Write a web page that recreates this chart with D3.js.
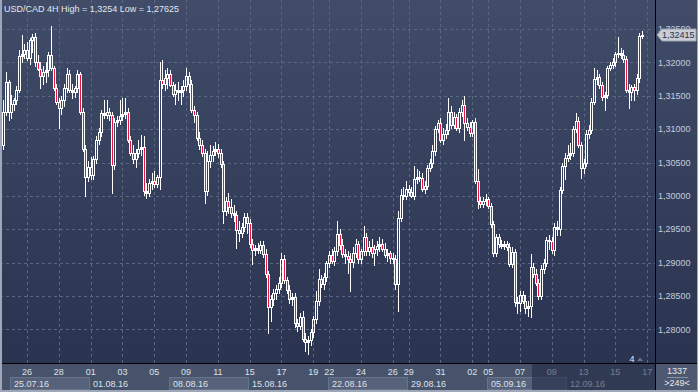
<!DOCTYPE html>
<html><head><meta charset="utf-8">
<script src="https://cdn.jsdelivr.net/npm/d3@7"></script>
<style>
html,body{margin:0;padding:0;background:#2e3752;}
svg{display:block;}
text{font-family:"Liberation Sans",Arial,sans-serif;}
</style></head><body>
<svg id="c" width="698" height="392"></svg>
<script>
const title = "USD/CAD 4H High = 1,3254 Low = 1,27625";
// 4H bars: [open, high, low, close]
const bars = [
[1.30755,1.31430,1.30710,1.31250],[1.31250,1.31850,1.31205,1.31700],[1.31700,1.31730,1.31130,1.31250],[1.31250,1.31505,1.31160,1.31370],
[1.31370,1.31460,1.31280,1.31430],[1.31430,1.31640,1.31370,1.31580],[1.31580,1.32180,1.31550,1.32090],[1.32090,1.32405,1.32000,1.32120],
[1.32120,1.32270,1.32060,1.32180],[1.32180,1.32300,1.32030,1.32060],[1.32060,1.32360,1.31970,1.32330],[1.32330,1.32420,1.32150,1.32375],
[1.32375,1.32435,1.31940,1.32000],[1.32000,1.32105,1.31880,1.31895],[1.31895,1.32000,1.31610,1.31790],[1.31790,1.31940,1.31670,1.31850],
[1.31850,1.32000,1.31700,1.31880],[1.31880,1.32150,1.31790,1.32105],[1.32105,1.32540,1.31880,1.31910],[1.31910,1.31940,1.31580,1.31610],
[1.31610,1.31670,1.31370,1.31400],[1.31400,1.31460,1.31010,1.31310],[1.31310,1.31490,1.31220,1.31430],[1.31430,1.31670,1.31340,1.31610],
[1.31610,1.31910,1.31550,1.31820],[1.31820,1.31880,1.31550,1.31580],[1.31580,1.31670,1.31460,1.31550],[1.31550,1.31640,1.31475,1.31610],
[1.31610,1.31880,1.31550,1.31820],[1.31820,1.31850,1.31220,1.31250],[1.31250,1.31310,1.30680,1.30710],[1.30710,1.30755,1.30005,1.30290],
[1.30290,1.30530,1.30230,1.30440],[1.30440,1.30590,1.30260,1.30320],[1.30320,1.30605,1.30260,1.30560],[1.30560,1.30890,1.30500,1.30830],
[1.30830,1.31010,1.30770,1.30950],[1.30950,1.31280,1.30890,1.31235],[1.31235,1.31430,1.31160,1.31205],[1.31205,1.31430,1.31160,1.31250],
[1.31250,1.31310,1.31130,1.31205],[1.31205,1.31250,1.30050,1.30470],[1.30470,1.31160,1.30410,1.31100],[1.31100,1.31190,1.31040,1.31130],
[1.31130,1.31430,1.31070,1.31190],[1.31190,1.31460,1.31130,1.31220],[1.31220,1.31460,1.31160,1.31250],[1.31250,1.31310,1.30800,1.30830],
[1.30830,1.30890,1.30620,1.30650],[1.30650,1.30755,1.30500,1.30560],[1.30560,1.30710,1.30440,1.30650],[1.30650,1.30830,1.30590,1.30710],
[1.30710,1.30905,1.30620,1.30725],[1.30725,1.30890,1.30020,1.30080],[1.30080,1.30200,1.29975,1.30050],[1.30050,1.30260,1.30005,1.30200],
[1.30200,1.30350,1.30110,1.30230],[1.30230,1.30380,1.30140,1.30185],[1.30185,1.30320,1.30140,1.30290],[1.30290,1.32000,1.30110,1.31730],
[1.31730,1.32030,1.31610,1.31670],[1.31670,1.31880,1.31580,1.31760],[1.31760,1.31910,1.31610,1.31820],[1.31820,1.31880,1.31640,1.31655],
[1.31655,1.31700,1.31490,1.31520],[1.31520,1.31670,1.31370,1.31580],[1.31580,1.31700,1.31430,1.31550],[1.31550,1.31640,1.31370,1.31580],
[1.31580,1.31730,1.31490,1.31640],[1.31640,1.31910,1.31580,1.31790],[1.31790,1.31850,1.31550,1.31670],[1.31670,1.31730,1.31250,1.31280],
[1.31280,1.31340,1.31100,1.31205],[1.31205,1.31250,1.30830,1.30860],[1.30860,1.30950,1.30710,1.30755],[1.30755,1.30830,1.30605,1.30650],
[1.30650,1.30710,1.29900,1.30080],[1.30080,1.30680,1.30020,1.30530],[1.30530,1.30755,1.30440,1.30620],[1.30620,1.30740,1.30530,1.30680],
[1.30680,1.30800,1.30620,1.30710],[1.30710,1.30770,1.30590,1.30650],[1.30650,1.30710,1.30440,1.30485],[1.30485,1.30530,1.29600,1.29780],
[1.29780,1.29990,1.29720,1.29930],[1.29930,1.30050,1.29750,1.29840],[1.29840,1.29960,1.29690,1.29750],[1.29750,1.29870,1.29630,1.29720],
[1.29720,1.29780,1.29225,1.29495],[1.29495,1.29630,1.29330,1.29450],[1.29450,1.29600,1.29390,1.29540],[1.29540,1.29750,1.29480,1.29690],
[1.29690,1.29750,1.29450,1.29600],[1.29600,1.29660,1.29240,1.29285],[1.29285,1.29360,1.28985,1.29195],[1.29195,1.29270,1.29120,1.29225],
[1.29225,1.29300,1.29150,1.29195],[1.29195,1.29330,1.29150,1.29270],[1.29270,1.29330,1.29090,1.29135],[1.29135,1.29210,1.28790,1.28835],
[1.28835,1.28880,1.27950,1.28340],[1.28340,1.28520,1.28130,1.28460],[1.28460,1.28610,1.28370,1.28550],[1.28550,1.28670,1.28460,1.28610],
[1.28610,1.28790,1.28550,1.28700],[1.28700,1.29150,1.28640,1.29060],[1.29060,1.29120,1.28700,1.28745],[1.28745,1.28790,1.28550,1.28595],
[1.28595,1.28670,1.28400,1.28460],[1.28460,1.28550,1.28370,1.28490],[1.28490,1.28550,1.28040,1.28100],[1.28100,1.28160,1.27980,1.28055],
[1.28055,1.28250,1.28010,1.28190],[1.28190,1.28280,1.27830,1.27860],[1.27860,1.27950,1.27680,1.27815],[1.27815,1.27905,1.27625,1.27845],
[1.27845,1.28010,1.27770,1.27965],[1.27965,1.28205,1.27890,1.28160],[1.28160,1.28580,1.28100,1.28430],[1.28430,1.28910,1.28370,1.28760],
[1.28760,1.28820,1.28640,1.28685],[1.28685,1.28850,1.28610,1.28790],[1.28790,1.29030,1.28730,1.29000],[1.29000,1.29180,1.28940,1.29120],
[1.29120,1.29210,1.29000,1.29030],[1.29030,1.29240,1.28970,1.29180],[1.29180,1.29630,1.29120,1.29435],[1.29435,1.29510,1.29210,1.29270],
[1.29270,1.29360,1.29090,1.29135],[1.29135,1.29210,1.29000,1.29105],[1.29105,1.29180,1.28850,1.29060],[1.29060,1.29150,1.28580,1.29015],
[1.29015,1.29240,1.28940,1.29150],[1.29150,1.29360,1.29090,1.29285],[1.29285,1.29330,1.29000,1.29060],[1.29060,1.29210,1.29000,1.29180],
[1.29180,1.29555,1.29120,1.29390],[1.29390,1.29450,1.29120,1.29180],[1.29180,1.29330,1.29120,1.29240],[1.29240,1.29360,1.29090,1.29150],
[1.29150,1.29270,1.28970,1.29210],[1.29210,1.29330,1.29120,1.29255],[1.29255,1.29390,1.29180,1.29285],[1.29285,1.29360,1.29180,1.29210],
[1.29210,1.29300,1.29090,1.29120],[1.29120,1.29210,1.29030,1.29150],[1.29150,1.29180,1.29000,1.29075],[1.29075,1.29150,1.29000,1.29060],
[1.29060,1.29120,1.28610,1.28685],[1.28685,1.29780,1.28280,1.29675],[1.29675,1.30110,1.29630,1.30020],[1.30020,1.30140,1.29960,1.30005],
[1.30005,1.30230,1.29960,1.30110],[1.30110,1.30170,1.30020,1.30065],[1.30065,1.30140,1.29990,1.30005],[1.30005,1.30455,1.29960,1.30260],
[1.30260,1.30410,1.30200,1.30290],[1.30290,1.30380,1.30230,1.30275],[1.30275,1.30350,1.30080,1.30110],[1.30110,1.30230,1.30050,1.30155],
[1.30155,1.30470,1.30110,1.30425],[1.30425,1.30560,1.30380,1.30500],[1.30500,1.30755,1.30440,1.30680],[1.30680,1.31040,1.30620,1.30995],
[1.30995,1.31130,1.30950,1.31085],[1.31085,1.31160,1.30800,1.30830],[1.30830,1.31010,1.30770,1.30920],[1.30920,1.31070,1.30860,1.30980],
[1.30980,1.31460,1.30920,1.31250],[1.31250,1.31340,1.31010,1.31055],[1.31055,1.31250,1.31010,1.31175],[1.31175,1.31220,1.30980,1.31010],
[1.31010,1.31310,1.30950,1.31250],[1.31250,1.31430,1.31190,1.31355],[1.31355,1.31490,1.30830,1.31085],[1.31085,1.31160,1.30980,1.31025],
[1.31025,1.31100,1.30890,1.30935],[1.30935,1.31130,1.30890,1.31100],[1.31100,1.31160,1.30200,1.30230],[1.30230,1.30410,1.29825,1.29930],
[1.29930,1.29990,1.29840,1.29885],[1.29885,1.29990,1.29840,1.29930],[1.29930,1.30035,1.29870,1.29960],[1.29960,1.29990,1.29825,1.29855],
[1.29855,1.29900,1.29540,1.29585],[1.29585,1.29630,1.29105,1.29150],[1.29150,1.29435,1.29105,1.29390],[1.29390,1.29435,1.29240,1.29285],
[1.29285,1.29345,1.29225,1.29255],[1.29255,1.29330,1.29210,1.29285],[1.29285,1.29330,1.29195,1.29240],[1.29240,1.29300,1.28955,1.28985],
[1.28985,1.29240,1.28940,1.29165],[1.29165,1.29210,1.28355,1.28415],[1.28415,1.28490,1.28250,1.28400],[1.28400,1.28580,1.28280,1.28520],
[1.28520,1.28580,1.28400,1.28430],[1.28430,1.28520,1.28250,1.28325],[1.28325,1.28430,1.28205,1.28355],[1.28355,1.29135,1.28190,1.28940],
[1.28940,1.29000,1.28790,1.28835],[1.28835,1.28910,1.28670,1.28700],[1.28700,1.28760,1.28460,1.28505],[1.28505,1.28970,1.28460,1.28910],
[1.28910,1.29060,1.28850,1.29000],[1.29000,1.29390,1.28955,1.29345],[1.29345,1.29420,1.29210,1.29330],[1.29330,1.29390,1.29150,1.29195],
[1.29195,1.29600,1.29120,1.29540],[1.29540,1.29630,1.29420,1.29510],[1.29510,1.30140,1.29420,1.30095],[1.30095,1.30500,1.30050,1.30455],
[1.30455,1.30650,1.30260,1.30575],[1.30575,1.30755,1.30530,1.30620],[1.30620,1.30785,1.30560,1.30650],[1.30650,1.31040,1.30605,1.30995],
[1.30995,1.31235,1.30950,1.31115],[1.31115,1.31175,1.30725,1.30755],[1.30755,1.30800,1.30275,1.30425],[1.30425,1.30560,1.30350,1.30500],
[1.30500,1.30980,1.30455,1.30920],[1.30920,1.31055,1.30860,1.30980],[1.30980,1.31460,1.30935,1.31400],[1.31400,1.31910,1.31370,1.31745],
[1.31745,1.31880,1.31670,1.31775],[1.31775,1.31820,1.31610,1.31655],[1.31655,1.31700,1.31430,1.31475],[1.31475,1.31550,1.31280,1.31505],
[1.31505,1.31940,1.31460,1.31910],[1.31910,1.32000,1.31880,1.31955],[1.31955,1.32060,1.31910,1.32000],[1.32000,1.32150,1.31940,1.32120],
[1.32120,1.32375,1.32075,1.32135],[1.32135,1.32210,1.32060,1.32105],[1.32105,1.32180,1.32000,1.32045],[1.32045,1.32090,1.31550,1.31580],
[1.31580,1.31670,1.31310,1.31550],[1.31550,1.31655,1.31430,1.31625],[1.31625,1.31670,1.31430,1.31580],[1.31580,1.31820,1.31520,1.31760],
[1.31760,1.32435,1.31700,1.32390],[1.32390,1.32465,1.32360,1.32415]
];
const priceTicks = [1.280,1.285,1.290,1.295,1.300,1.305,1.310,1.315,1.320,1.325];
const dayLabels = ["26","28","01","03","05","09","11","15","17","19","22","24","26","29","31","02","05","07","09","13","15","17"];
const dayBar    = [9,21,33,45,57,69,81,93,105,117,123,135,147,153,165,177,183,195,207,219,231,243];
const weekLabels = ["25.07.16","01.08.16","08.08.16","15.08.16","22.08.16","29.08.16","05.09.16","12.09.16"];
const weekBar    = [3,33,63,93,123,153,183,213];
const lastPrice = 1.32415;
const barsTotal = "1337", barsShown = ">249<", shiftLabel = "4";
const dimFromBar = 200;

const W = 698, H = 392, plotR = 655, axisY = 363;
const svg = d3.select("#c");
const x = d3.scaleLinear().domain([0, 1]).range([3.2, 5.85]);
const y = d3.scaleLinear().domain([1.275, 1.325]).range([362.8, 29]);
const fmt = v => d3.format(".5f")(v).replace(".", ",");

const defs = svg.append("defs");
const gr = defs.append("linearGradient").attr("id","bg").attr("x1",0).attr("y1",0).attr("x2",0).attr("y2",1);
gr.append("stop").attr("offset","0").attr("stop-color","#404c68");
gr.append("stop").attr("offset","1").attr("stop-color","#2a3350");
defs.append("clipPath").attr("id","pc").append("rect").attr("x",0).attr("y",0).attr("width",plotR).attr("height",axisY);

svg.append("rect").attr("x",0).attr("y",0).attr("width",W).attr("height",axisY).attr("fill","url(#bg)");
svg.append("rect").attr("x",0).attr("y",axisY).attr("width",W).attr("height",H-axisY).attr("fill","#47526b");

// grid
const grid = svg.append("g").attr("stroke","#5b6782").attr("stroke-dasharray","3,3").attr("stroke-width",1);
priceTicks.forEach(t=>{
  const yy = Math.round(y(t))+0.5;
  grid.append("line").attr("x1",0).attr("x2",plotR).attr("y1",yy).attr("y2",yy);
});
dayBar.forEach(b=>{
  const xx = Math.round(x(b))+0.5;
  if (xx < plotR) grid.append("line").attr("x1",xx).attr("x2",xx).attr("y1",0).attr("y2",axisY);
});

// candles
const cg = svg.append("g").attr("clip-path","url(#pc)");
bars.forEach((b,i)=>{
  const [o,h,l,c] = b;
  const cx = Math.round(x(i));
  const top = Math.round(y(Math.max(o,c))), bot = Math.round(y(Math.min(o,c)));
  const yh = Math.round(y(h)), yl = Math.round(y(l));
  if (yh < top) cg.append("rect").attr("x",cx).attr("y",yh).attr("width",1).attr("height",top-yh).attr("fill","#fff");
  if (yl > bot) cg.append("rect").attr("x",cx).attr("y",bot).attr("width",1).attr("height",yl-bot+1).attr("fill","#fff");
  if (bot - top < 3) {
    cg.append("rect").attr("x",cx-1).attr("y",top).attr("width",3).attr("height",Math.max(1,bot-top+1)).attr("fill","#fff");
  } else {
    cg.append("rect").attr("x",cx-0.5).attr("y",top+0.5).attr("width",2).attr("height",bot-top)
      .attr("fill", c < o ? "#e8153f" : "none").attr("stroke","#fff").attr("stroke-width",1);
  }
});

// week boxes & labels
const ax = svg.append("g");
weekBar.forEach((b,i)=>{
  const x0 = Math.round(x(b-0.5))+0.5;
  const x1 = Math.min(plotR, Math.round(x((weekBar[i+1]!==undefined?weekBar[i+1]:b+30)-0.5))+0.5);
  if (i % 2 === 0) {
    ax.append("rect").attr("x",x0).attr("y",377.5).attr("width",x1-x0).attr("height",12)
      .attr("fill","#56617a").attr("stroke","#67728b");
  }
  ax.append("text").attr("x",x0+3.5).attr("y",387).attr("font-size",9).attr("fill","#dde2ea").text(weekLabels[i]);
});
dayBar.forEach((b,i)=>{
  ax.append("text").attr("x",x(b)).attr("y",375).attr("text-anchor","middle").attr("font-size",9)
    .attr("fill","#dde2ea").text(dayLabels[i]);
});
// dimmed navigator region
svg.append("rect").attr("x",Math.round(x(dimFromBar-0.5))).attr("y",axisY).attr("width",plotR-Math.round(x(dimFromBar-0.5))).attr("height",H-axisY)
  .attr("fill","#1f2740").attr("opacity",0.55);

// frame lines
svg.append("line").attr("x1",0).attr("x2",W).attr("y1",axisY+0.5).attr("y2",axisY+0.5).attr("stroke","#000");
svg.append("line").attr("x1",plotR+0.5).attr("x2",plotR+0.5).attr("y1",0).attr("y2",H).attr("stroke","#000");
svg.append("rect").attr("x",plotR+1).attr("y",axisY+1).attr("width",W-plotR-1).attr("height",H-axisY-1).attr("fill","#4d5871");

// right axis labels
priceTicks.forEach(t=>{
  svg.append("text").attr("x",658).attr("y",y(t)+3.2).attr("font-size",9).attr("fill","#c4cddc").text(fmt(t));
});
// last price tag
const ly = Math.round(y(lastPrice));
svg.append("path").attr("d",`M657,${ly} L662,${ly-6} L696,${ly-6} L696,${ly+6} L662,${ly+6} Z`)
  .attr("fill","#c9cdd5").attr("stroke","#9aa1ae");
svg.append("text").attr("x",662).attr("y",ly+3.3).attr("font-size",9).attr("fill","#27304a").text(fmt(lastPrice));

// bottom right counters
svg.append("text").attr("x",677).attr("y",374).attr("text-anchor","middle").attr("font-size",9).attr("fill","#e6eaf0").text(barsTotal);
svg.append("line").attr("x1",667).attr("x2",688).attr("y1",377.5).attr("y2",377.5).attr("stroke","#8a94a8");
svg.append("text").attr("x",677).attr("y",386).attr("text-anchor","middle").attr("font-size",9).attr("fill","#e6eaf0").text(barsShown);

// shift marker
svg.append("text").attr("x",632).attr("y",362).attr("text-anchor","middle").attr("font-size",9).attr("fill","#e6eaf0").text(shiftLabel);
svg.append("path").attr("d","M637,361 L640,357.5 L643,361 Z").attr("fill","#66718a");

// title
svg.append("text").attr("x",4).attr("y",12).attr("font-size",9).attr("fill","#e4e8ef").text(title);

// outer frame
svg.append("rect").attr("x",0).attr("y",0).attr("width",2).attr("height",H).attr("fill","#9ea7b8");
svg.append("rect").attr("x",0).attr("y",H-2).attr("width",W).attr("height",2).attr("fill","#9ea7b8");
svg.append("rect").attr("x",W-1).attr("y",0).attr("width",1).attr("height",H).attr("fill","#9ea7b8");
</script>
</body></html>
